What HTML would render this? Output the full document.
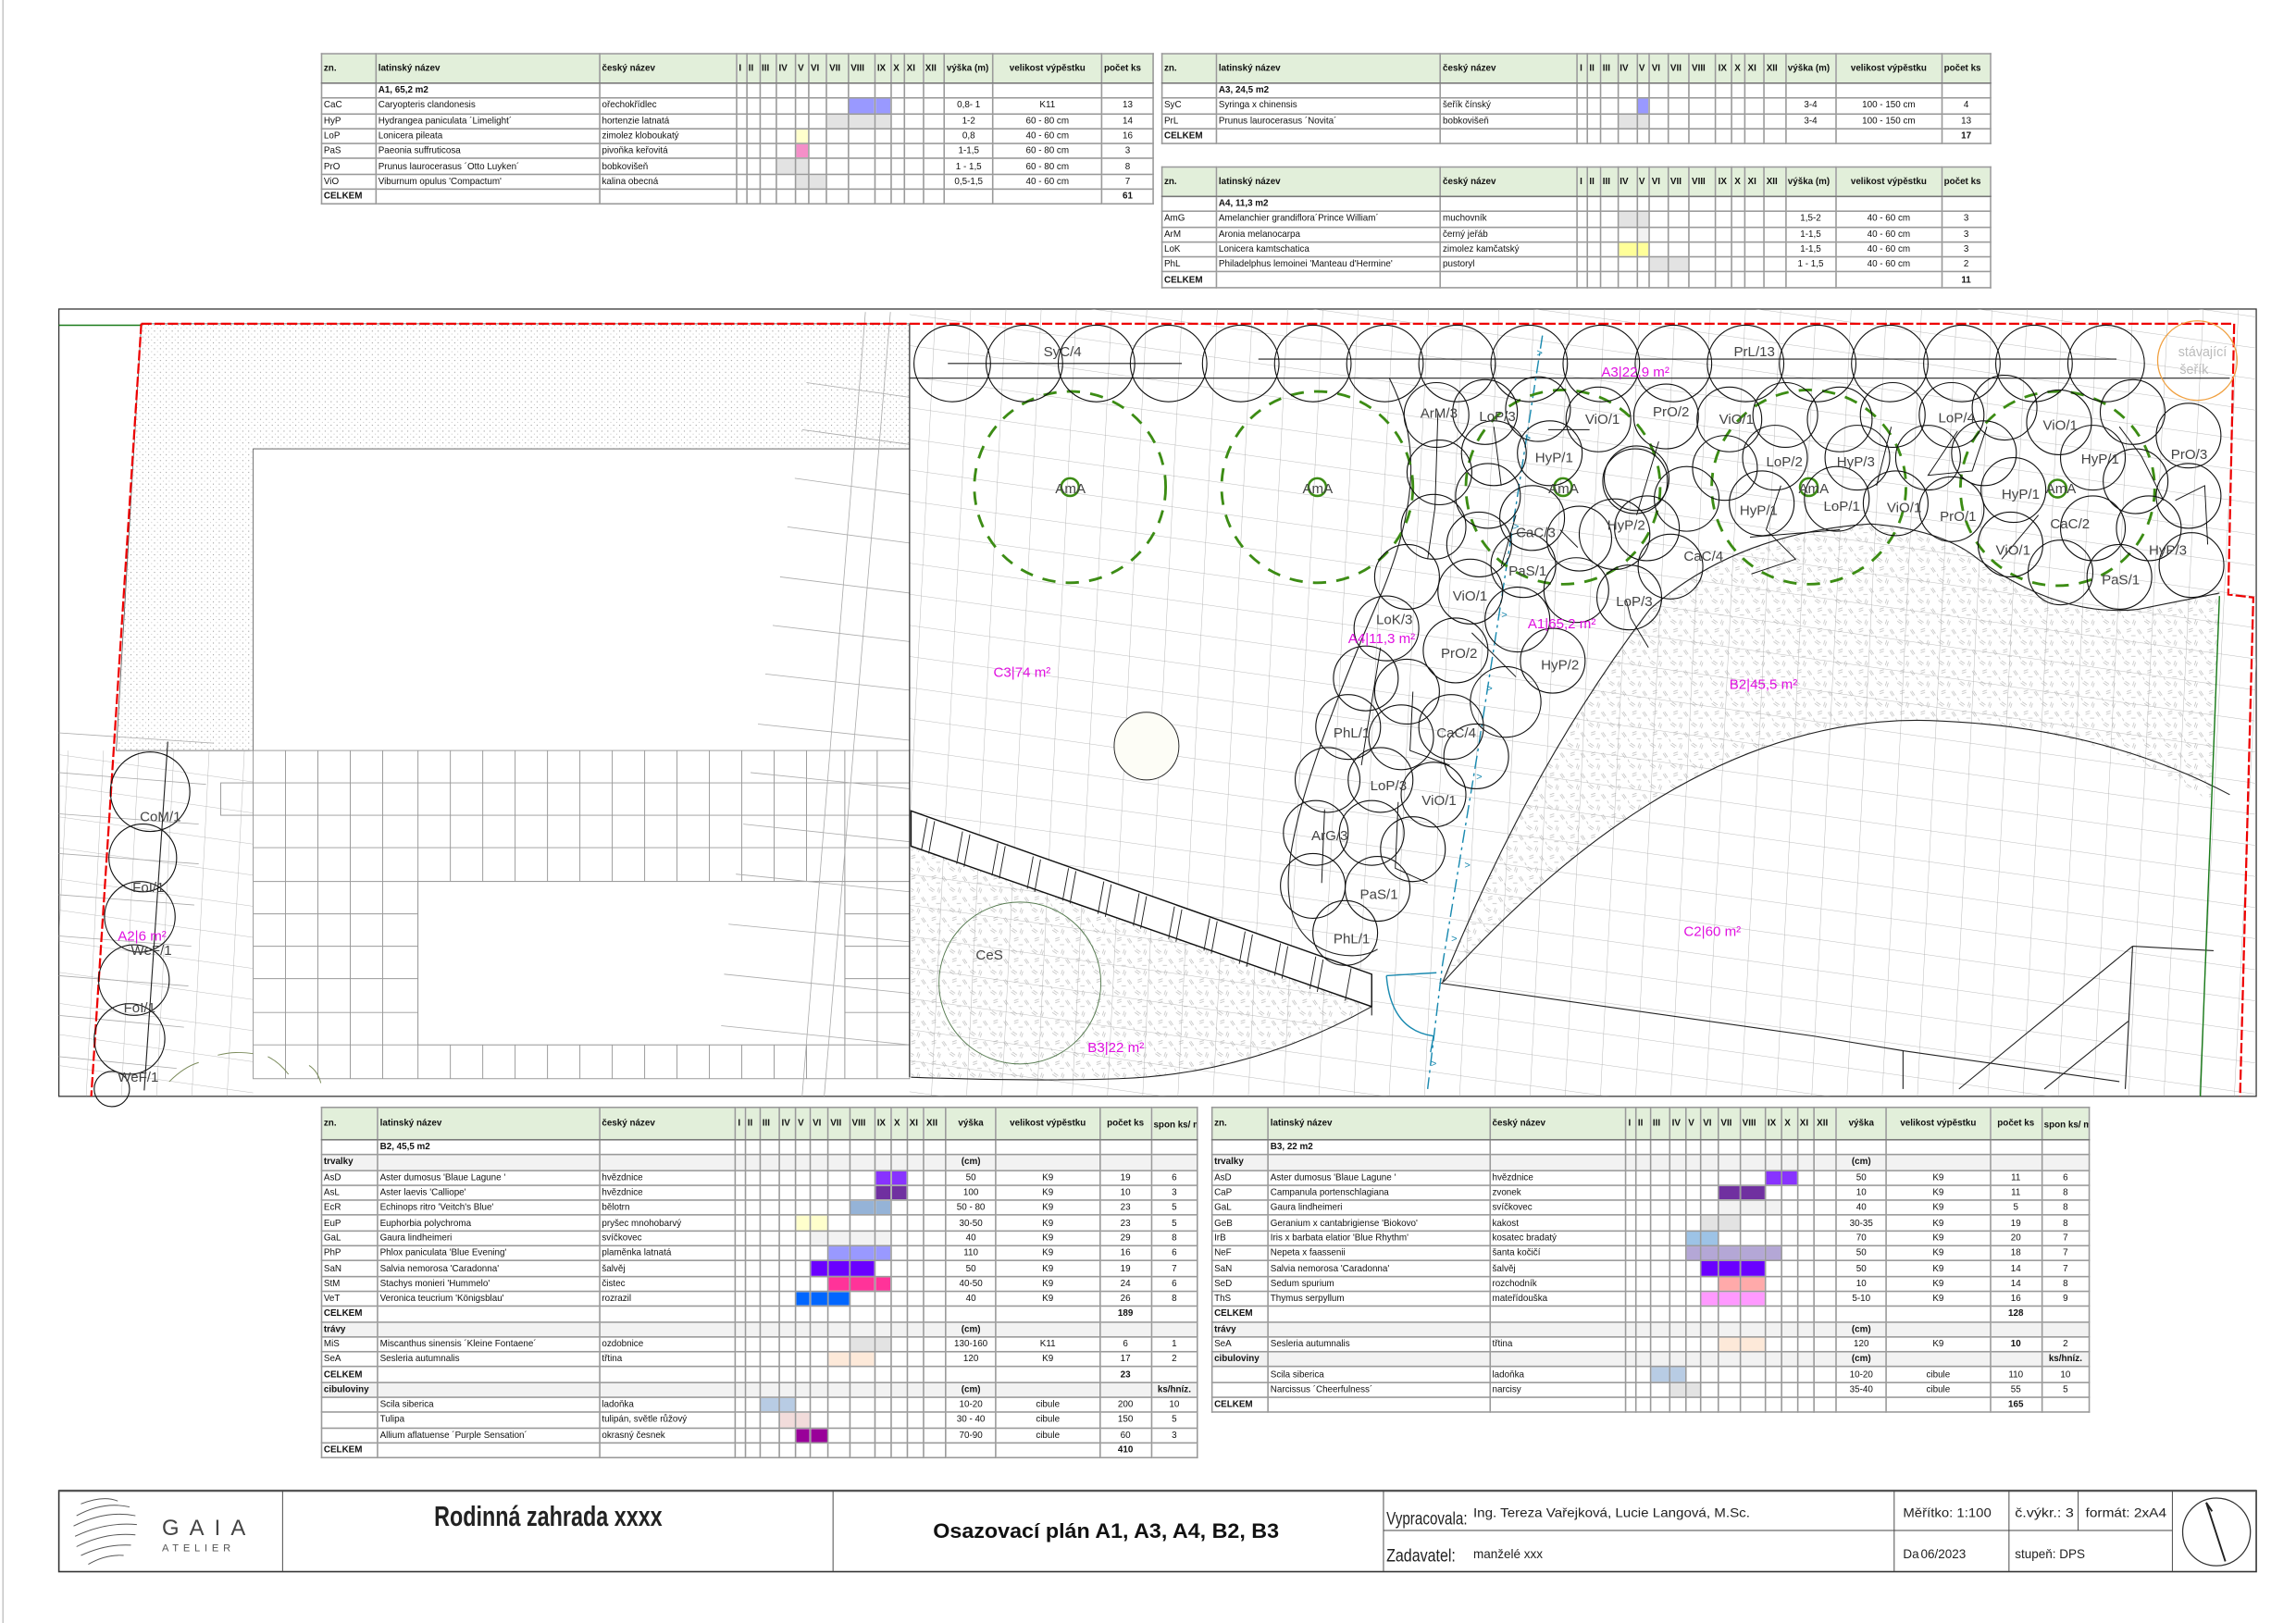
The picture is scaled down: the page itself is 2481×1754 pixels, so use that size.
<!DOCTYPE html>
<html><head><meta charset="utf-8"><style>
html,body{margin:0;padding:0;background:#fff;width:2481px;height:1754px;overflow:hidden}
#w{position:absolute;left:0;top:0;width:1560px;height:1103px;transform:scale(1.59038);transform-origin:0 0;font-family:"Liberation Sans Narrow","Liberation Sans",sans-serif}
.t{position:absolute;border-collapse:collapse;table-layout:fixed;font-size:6.2px;color:#111;border:0.8px solid #333}
.t td{border:0.5px solid #9a9a9a;padding:0 1px;height:10.3px;line-height:9px;white-space:nowrap;overflow:hidden;box-sizing:border-box}
.t tr.h td{background:#e2efda;font-weight:bold;height:20px;border-bottom:1px solid #777}
.t tr.bh td{height:22px}
.t tr.g td{background:#f2f2f2;font-weight:bold}
.t tr.k td{font-weight:bold;border-top:0.8px solid #333}
.t td.c{text-align:center}
.b{background:#9999ff}.gy{background:#e3e3e3}.y{background:#ffffcc}.pk{background:#f48fc8}.yy{background:#ffff99}
.a1{background:#8833ff}.a2{background:#7030a0}.ec{background:#95b3d7}.lg{background:#f2f2f2}.sn{background:#6a00ff}.st{background:#ff3399}.vt{background:#0066ff}.se{background:#fde9d9}.sc{background:#b8cce4}.tu{background:#f2dcdb}.al{background:#990099}.ir{background:#9dc3e6}.ne{background:#b4a7d6}.sd{background:#ffaaaa}.th{background:#ff99ff}
.svg{position:absolute;left:0;top:0}
</style></head><body><div id="w">

<svg class="svg" width="1560" height="1103" viewBox="0 0 1560 1103" font-family="Liberation Sans, sans-serif">
<defs>
<pattern id="grid" width="24" height="21" patternUnits="userSpaceOnUse" patternTransform="matrix(0.990,0.139,-0.05,0.999,0,0)">
<path d="M0 0H24M0 0V21" stroke="#a8a8a8" stroke-width="0.5" fill="none"/></pattern>
<pattern id="tex" width="14" height="14" patternUnits="userSpaceOnUse">
<path d="M1 2l3 2M2 1l3 2M8 1l-1 3M9 2l-1 3M3 8l3-1M3 9.5l3-1M10 8l2 3M11 7.5l2 3M6 12l3 0M0 12l1 2" stroke="#bbb" stroke-width="0.45" fill="none"/></pattern>
<pattern id="dots" width="4" height="4" patternUnits="userSpaceOnUse"><circle cx="1" cy="1" r="0.35" fill="#888"/><circle cx="3" cy="3" r="0.3" fill="#aaa"/></pattern>
<clipPath id="gc"><path d="M618 210H1533V745H618ZM40 510H172V745H40Z"/></clipPath>
</defs>
<line x1="2" y1="0" x2="2" y2="1103" stroke="#bbb" stroke-width="0.8"/>
<rect x="40" y="210" width="1493" height="535" fill="#fff" stroke="#333" stroke-width="0.8"/>
<path d="M96 220H618V305H172V510H79Z" fill="url(#dots)" stroke="#555" stroke-width="0.5"/>
<g stroke="#999" stroke-width="0.6" fill="none">
<rect x="172" y="510" width="446" height="223"/>
<path d="M194 510V733M216 510V733M238 510V733M260 510V733M284 510V733M306 510V599M328 510V599M350 510V599M372 510V599M394 510V599M416 510V599M438 510V599M460 510V599M482 510V599M504 510V599M526 510V599M548 510V599M574 510V733M596 510V733M306 710V733M328 710V733M350 710V733M372 710V733M394 710V733M416 710V733M438 710V733M460 710V733M482 710V733M504 710V733M526 710V733M548 710V733"/>
<path d="M172 532H618M172 554H618M172 576H618M172 599H618M172 621H284M172 643H284M172 665H284M172 688H284M172 710H618M574 621H618M574 643H618M574 665H618M574 688H618"/>
<rect x="284" y="599" width="290" height="111" fill="#fff"/>
<rect x="150" y="532" width="22" height="22"/>
</g>
<path d="M619 575L932 684Q850 730 760 733L619 732Z" fill="url(#tex)"/>
<path d="M980 668Q1040 520 1121 414Q1180 362 1271 356Q1320 360 1344 380Q1400 420 1453 414L1508 403L1502 545Q1430 495 1320 490Q1150 480 981 667Z" fill="url(#tex)"/>
<rect x="40" y="210" width="1493" height="535" fill="url(#grid)" clip-path="url(#gc)"/>
<g stroke="#aaa" stroke-width="0.5"><path d="M40 498L145 505M40 525L140 533M40 553L135 560M40 580L135 587M40 608L132 615M40 636L130 643M40 663L128 670M40 690L125 698M40 718L120 726"/>
<path d="M548 260L618 270M545 292L618 302M540 325L618 336M535 358L618 369M530 392L618 403M525 425L618 436M520 458L618 469M515 492L618 503M510 525L618 536M505 560L618 572M500 594L618 606M495 628L618 640M492 662L618 675M490 697L618 710M605 212L560 745M588 212L545 745"/></g>
<path d="M619 551L932 662L932 684L619 575Z" fill="#fff" stroke="#111" stroke-width="0.9"/>
<g stroke="#222" stroke-width="0.6"><path d="M630 556L626 578M635 558L631 580M654 565L650 587M659 567L655 589M678 573L674 595M683 575L679 597M702 582L698 604M707 584L703 606M726 590L722 612M731 592L727 614M750 599L746 621M755 601L751 623M774 607L770 629M779 609L775 631M798 616L794 638M803 618L799 640M822 624L818 646M827 626L823 648M846 633L842 655M851 635L847 657M870 641L866 663M875 643L871 665M894 650L890 672M899 652L895 674M918 658L914 680"/></g>
<g stroke="#222" stroke-width="0.7" fill="none">
<path d="M618 220V732"/>
<path d="M618 257H1515"/>
<path d="M619 732Q700 735 760 733Q850 730 932 684"/>
<path d="M944 257C966 300 962 345 940 400C905 480 870 570 876 610C880 650 920 655 936 645"/>
<path d="M980 668Q1040 520 1121 414Q1180 362 1271 356Q1320 360 1344 380Q1400 420 1453 414L1508 403"/>
<path d="M981 667Q1150 480 1320 490Q1430 495 1515 540"/>
<path d="M932 684L932 690M978 668L1232 704L1293 714L1293 740M1293 714L1440 735M1449 643L1504 646M1449 643L1444 740M1331 740L1449 643M1389 740L1446 694"/>
<path d="M644 247H803M855 244H1438"/>
<path d="M114 504L98 741"/>
</g>
<path d="M40 221H96" stroke="#1a7a1a" stroke-width="0.9"/>
<path d="M1508 405L1495 745" stroke="#1a7a1a" stroke-width="0.9"/>
<path d="M96 220H1518L1514 404L1531 406L1522 745M96 220L62 745" stroke="#e00" stroke-width="1.4" stroke-dasharray="7 2" fill="none"/>
<path d="M1048 228L1004 511L980 656L970 740" stroke="#1a8ab0" stroke-width="0.9" stroke-dasharray="9 3 2 3" fill="none"/>
<path d="M942 663L976 661M942 663Q945 700 974 704L972 715" stroke="#1a8ab0" stroke-width="0.9" fill="none"/>
<g fill="#1a8ab0" font-size="7"><text x="1044" y="242">&gt;</text><text x="1036" y="300">&gt;</text><text x="1028" y="360">&gt;</text><text x="1020" y="420">&gt;</text><text x="1010" y="470">&gt;</text><text x="1003" y="530">&gt;</text><text x="995" y="590">&gt;</text><text x="986" y="640">&gt;</text><text x="972" y="725">&gt;</text></g>
<g stroke="#3c8c14" stroke-width="1.8" stroke-dasharray="9 7" fill="none">
<circle cx="727" cy="331" r="65"/><circle cx="895" cy="331" r="65"/><circle cx="1062" cy="331" r="66"/><circle cx="1229" cy="331" r="66"/><circle cx="1398" cy="332" r="66"/></g>
<g stroke="#3c8c14" stroke-width="1.6" fill="none"><circle cx="727" cy="331" r="6"/><circle cx="895" cy="331" r="6"/><circle cx="1062" cy="331" r="6"/><circle cx="1229" cy="331" r="6"/><circle cx="1398" cy="332" r="6"/></g>
<g stroke="#7a8a5a" stroke-width="0.6" fill="none"><path d="M115 735Q125 725 135 722M148 717Q160 714 172 716M182 718Q190 722 196 730M210 724Q216 728 218 736"/></g>
<g stroke="#111" stroke-width="0.7" fill="none">
<circle cx="647" cy="247" r="26"/><circle cx="696" cy="247" r="26"/><circle cx="745" cy="247" r="26"/><circle cx="794" cy="247" r="26"/><circle cx="843" cy="247" r="26"/><circle cx="892" cy="247" r="26"/><circle cx="941" cy="247" r="26"/><circle cx="990" cy="247" r="26"/><circle cx="1039" cy="247" r="26"/><circle cx="1088" cy="247" r="26"/><circle cx="1137" cy="247" r="26"/><circle cx="1186" cy="247" r="26"/><circle cx="1235" cy="247" r="26"/><circle cx="1284" cy="247" r="26"/><circle cx="1333" cy="247" r="26"/><circle cx="1382" cy="247" r="26"/><circle cx="1431" cy="247" r="26"/>
<circle cx="976" cy="282" r="22"/><circle cx="978" cy="321" r="22"/><circle cx="974" cy="358" r="22"/><circle cx="956" cy="392" r="22"/><circle cx="942" cy="427" r="22"/><circle cx="928" cy="461" r="22"/><circle cx="916" cy="494" r="22"/><circle cx="902" cy="530" r="22"/><circle cx="894" cy="566" r="22"/><circle cx="892" cy="602" r="22"/><circle cx="914" cy="634" r="22"/>
<circle cx="1009" cy="280" r="22"/><circle cx="1015" cy="308" r="22"/><circle cx="1011" cy="337" r="22"/><circle cx="1005" cy="370" r="22"/><circle cx="999" cy="402" r="22"/><circle cx="989" cy="442" r="22"/><circle cx="956" cy="470" r="22"/><circle cx="952" cy="501" r="22"/><circle cx="938" cy="530" r="22"/><circle cx="932" cy="566" r="22"/><circle cx="936" cy="604" r="22"/><circle cx="960" cy="577" r="22"/><circle cx="974" cy="540" r="22"/><circle cx="986" cy="494" r="22"/><circle cx="1003" cy="514" r="22"/><circle cx="1023" cy="477" r="24"/><circle cx="1031" cy="421" r="22"/><circle cx="1035" cy="384" r="22"/><circle cx="1041" cy="352" r="22"/><circle cx="1053" cy="308" r="22"/><circle cx="1045" cy="278" r="22"/><circle cx="1073" cy="366" r="22"/><circle cx="1071" cy="401" r="22"/><circle cx="1055" cy="449" r="22"/><circle cx="1107" cy="406" r="22"/><circle cx="1111" cy="327" r="22"/><circle cx="1097" cy="363" r="24"/>
<circle cx="1086" cy="285" r="22"/><circle cx="1132" cy="283" r="22"/><circle cx="1112" cy="325" r="22"/><circle cx="1146" cy="339" r="22"/><circle cx="1119" cy="359" r="22"/><circle cx="1135" cy="385" r="22"/><circle cx="1175" cy="285" r="22"/><circle cx="1172" cy="318" r="22"/><circle cx="1197" cy="342" r="22"/><circle cx="1206" cy="311" r="22"/><circle cx="1213" cy="282" r="22"/><circle cx="1250" cy="285" r="22"/><circle cx="1262" cy="311" r="22"/><circle cx="1248" cy="339" r="22"/><circle cx="1286" cy="282" r="22"/><circle cx="1288" cy="342" r="22"/><circle cx="1310" cy="311" r="22"/><circle cx="1326" cy="282" r="22"/><circle cx="1326" cy="346" r="22"/><circle cx="1348" cy="308" r="22"/><circle cx="1362" cy="277" r="22"/><circle cx="1368" cy="333" r="22"/><circle cx="1366" cy="370" r="22"/><circle cx="1399" cy="287" r="22"/><circle cx="1422" cy="311" r="22"/><circle cx="1449" cy="280" r="22"/><circle cx="1451" cy="327" r="22"/><circle cx="1422" cy="359" r="22"/><circle cx="1400" cy="389" r="22"/><circle cx="1440" cy="392" r="22"/><circle cx="1460" cy="359" r="22"/><circle cx="1487" cy="296" r="22"/><circle cx="1487" cy="337" r="22"/><circle cx="1489" cy="384" r="22"/>
<circle cx="102" cy="538" r="27"/><circle cx="97" cy="583" r="23"/><circle cx="95" cy="623" r="24"/><circle cx="91" cy="666" r="24"/><circle cx="88" cy="706" r="24"/><circle cx="76" cy="740" r="12"/>
</g>
<g stroke="#111" stroke-width="0.6" fill="none"><path d="M977 280L975 345L970 380M1015 290L1020 330M1052 292L1080 292M1112 350L1127 300M1189 365L1250 360M1210 330L1200 360L1220 380L1190 390M1060 360L1072 372M1030 350L1020 385M1105 408L1108 420L1120 440M1000 430L1030 460M938 440L925 520M960 470L958 510L985 520M950 545L948 590L970 600M900 550L898 600M1285 290L1275 330M1330 293L1310 323L1340 320L1350 290M1440 290L1455 310L1470 340M1478 340L1498 330L1500 370M1360 380L1385 350"/></g>
<circle cx="1493" cy="245" r="27" fill="none" stroke="#f0a040" stroke-width="0.8"/>
<circle cx="693" cy="668" r="55" fill="none" stroke="#567a50" stroke-width="0.6"/>
<ellipse cx="779" cy="507" rx="22" ry="23" fill="#fdfdf6" stroke="#222" stroke-width="0.6"/>
<g font-size="9.5" fill="#444">
<text x="709" y="242">SyC/4</text><text x="1178" y="242">PrL/13</text>
<text x="717" y="335">AmA</text><text x="885" y="335">AmA</text><text x="1052" y="335">AmA</text><text x="1222" y="335">AmA</text><text x="1390" y="335">AmA</text>
<text x="965" y="284">ArM/3</text><text x="1005" y="286">LoP/3</text><text x="1077" y="288">ViO/1</text><text x="1123" y="283">PrO/2</text><text x="1168" y="288">ViO/1</text><text x="1043" y="314">HyP/1</text><text x="1200" y="317">LoP/2</text><text x="1248" y="317">HyP/3</text><text x="1317" y="287">LoP/4</text><text x="1388" y="292">ViO/1</text><text x="1414" y="315">HyP/1</text><text x="1475" y="312">PrO/3</text>
<text x="1182" y="350">HyP/1</text><text x="1239" y="347">LoP/1</text><text x="1282" y="348">ViO/1</text><text x="1318" y="354">PrO/1</text><text x="1360" y="339">HyP/1</text><text x="1393" y="359">CaC/2</text><text x="1460" y="377">HyP/3</text><text x="1356" y="377">ViO/1</text><text x="1428" y="397">PaS/1</text>
<text x="1030" y="365">CaC/3</text><text x="1092" y="360">HyP/2</text><text x="1144" y="381">CaC/4</text><text x="1025" y="391">PaS/1</text><text x="987" y="408">ViO/1</text><text x="1098" y="412">LoP/3</text><text x="935" y="424">LoK/3</text><text x="979" y="447">PrO/2</text><text x="1047" y="455">HyP/2</text><text x="906" y="501">PhL/1</text><text x="976" y="501">CaC/4</text><text x="931" y="537">LoP/3</text><text x="966" y="547">ViO/1</text><text x="891" y="571">ArG/3</text><text x="924" y="611">PaS/1</text><text x="906" y="641">PhL/1</text>
<text x="663" y="652">CeS</text>
<text x="95" y="558">CoM/1</text><text x="90" y="606">FoI/1</text><text x="89" y="649">WeF/1</text><text x="84" y="688">FoI/1</text><text x="80" y="735">WeF/1</text>
</g>
<g font-size="9" fill="#bbb"><text x="1480" y="242">stávající</text><text x="1481" y="254">šeřík</text></g>
<g font-size="9.5" fill="#e010e0">
<text x="1088" y="256">A3|22,9 m²</text><text x="675" y="460">C3|74 m²</text><text x="916" y="437">A4|11,3 m²</text><text x="1038" y="427">A1|65,2 m²</text><text x="1175" y="468">B2|45,5 m²</text><text x="1144" y="636">C2|60 m²</text><text x="739" y="715">B3|22 m²</text><text x="80" y="639">A2|6 m²</text>
</g>
<rect x="40" y="1013" width="1493" height="55" fill="#fff" stroke="#333" stroke-width="1"/>
<line x1="40" y1="1013" x2="1533" y2="1013" stroke="#555" stroke-width="1.5"/>
<g stroke="#444" stroke-width="0.6"><path d="M192 1013V1068M566 1013V1068M940 1013V1068M1287 1013V1068M1365 1013V1040M1412 1013V1040M1476 1013V1068M940 1040H1476M1365 1040V1068"/></g>
<g stroke="#555" stroke-width="0.6" fill="none"><path d="M55 1022Q70 1016 80 1020M52 1030Q70 1020 88 1024M50 1037Q72 1026 92 1030M51 1044Q72 1034 93 1036M52 1051Q72 1041 92 1043M55 1057Q72 1049 89 1050M60 1063Q72 1056 84 1057"/></g>
<text x="110" y="1043" font-size="15" fill="#444" letter-spacing="7">GAIA</text>
<text x="110" y="1054" font-size="7" fill="#555" letter-spacing="3">ATELIER</text>
<text x="295" y="1037" font-size="19" font-weight="bold" fill="#222" textLength="155" lengthAdjust="spacingAndGlyphs">Rodinná zahrada xxxx</text>
<text x="634" y="1045" font-size="14" font-weight="bold" fill="#111" textLength="235" lengthAdjust="spacingAndGlyphs">Osazovací plán A1, A3, A4, B2, B3</text>
<g fill="#222">
<text x="942" y="1036" font-size="12" textLength="55" lengthAdjust="spacingAndGlyphs">Vypracovala:</text><text x="1001" y="1031" font-size="8.5" textLength="188" lengthAdjust="spacingAndGlyphs">Ing. Tereza Vařejková, Lucie Langová, M.Sc.</text>
<text x="942" y="1061" font-size="12" textLength="47" lengthAdjust="spacingAndGlyphs">Zadavatel:</text><text x="1001" y="1059" font-size="8.5">manželé xxx</text>
<text x="1293" y="1031" font-size="8.5" textLength="60" lengthAdjust="spacingAndGlyphs">Měřítko: 1:100</text><text x="1369" y="1031" font-size="8.5" textLength="40" lengthAdjust="spacingAndGlyphs">č.výkr.: 3</text><text x="1417" y="1031" font-size="8.5" textLength="55" lengthAdjust="spacingAndGlyphs">formát: 2xA4</text>
<text x="1293" y="1059" font-size="8.5">Da</text><text x="1305" y="1059" font-size="8.5">06/2023</text><text x="1369" y="1059" font-size="8.5">stupeň: DPS</text>
</g>
<circle cx="1506" cy="1041" r="23" fill="none" stroke="#333" stroke-width="0.8"/>
<path d="M1499 1021L1512 1061M1499 1021L1503 1027" stroke="#222" stroke-width="1.2" fill="none"/>
</svg>

<table class="t" style="left:218px;top:36px;width:565px">
<colgroup><col style="width:37px"><col style="width:152px"><col style="width:93px"><col style="width:6.5px"><col style="width:9px"><col style="width:11.6px"><col style="width:13px"><col style="width:8.7px"><col style="width:12.7px"><col style="width:14.5px"><col style="width:18px"><col style="width:11px"><col style="width:9px"><col style="width:12.7px"><col style="width:14.5px"><col style="width:33px"><col style="width:74px"><col style="width:35px"></colgroup>
<tr class="h"><td>zn.<td>latinský název<td>český název<td>I<td>II<td>III<td>IV<td>V<td>VI<td>VII<td>VIII<td>IX<td>X<td>XI<td>XII<td>výška (m)<td class=c>velikost výpěstku<td>počet ks
<tr><td><td><b>A1, 65,2 m2</b><td><td><td><td><td><td><td><td><td><td><td><td><td><td><td><td>
<tr><td>CaC<td>Caryopteris clandonesis<td>ořechokřídlec<td><td><td><td><td><td><td><td class=b><td class=b><td><td><td><td class=c>0,8- 1<td class=c>K11<td class=c>13
<tr><td>HyP<td>Hydrangea paniculata ´Limelight´<td>hortenzie latnatá<td><td><td><td><td><td><td class=gy><td class=gy><td class=gy><td><td><td><td class=c>1-2<td class=c>60 - 80 cm<td class=c>14
<tr><td>LoP<td>Lonicera pileata<td>zimolez kloboukatý<td><td><td><td><td class=y><td><td><td><td><td><td><td><td class=c>0,8<td class=c>40 - 60 cm<td class=c>16
<tr><td>PaS<td>Paeonia suffruticosa<td>pivoňka keřovitá<td><td><td><td><td class=pk><td><td><td><td><td><td><td><td class=c>1-1,5<td class=c>60 - 80 cm<td class=c>3
<tr><td>PrO<td>Prunus laurocerasus ´Otto Luyken´<td>bobkovišeň<td><td><td><td class=gy><td class=gy><td><td><td><td><td><td><td><td class=c>1 - 1,5<td class=c>60 - 80 cm<td class=c>8
<tr><td>ViO<td>Viburnum opulus 'Compactum'<td>kalina obecná<td><td><td><td><td class=gy><td class=gy><td><td><td><td><td><td><td class=c>0,5-1,5<td class=c>40 - 60 cm<td class=c>7
<tr class="k"><td>CELKEM<td><td><td><td><td><td><td><td><td><td><td><td><td><td><td><td><td class=c>61
</table>

<table class="t" style="left:789px;top:36px;width:564px">
<colgroup><col style="width:37px"><col style="width:152px"><col style="width:93px"><col style="width:6.5px"><col style="width:9px"><col style="width:11.6px"><col style="width:13px"><col style="width:8.7px"><col style="width:12.7px"><col style="width:14.5px"><col style="width:18px"><col style="width:11px"><col style="width:9px"><col style="width:12.7px"><col style="width:14.5px"><col style="width:34px"><col style="width:72px"><col style="width:33px"></colgroup>
<tr class="h"><td>zn.<td>latinský název<td>český název<td>I<td>II<td>III<td>IV<td>V<td>VI<td>VII<td>VIII<td>IX<td>X<td>XI<td>XII<td>výška (m)<td class=c>velikost výpěstku<td>počet ks
<tr><td><td><b>A3, 24,5 m2</b><td><td><td><td><td><td><td><td><td><td><td><td><td><td><td><td>
<tr><td>SyC<td>Syringa x chinensis<td>šeřík čínský<td><td><td><td><td class=b><td><td><td><td><td><td><td><td class=c>3-4<td class=c>100 - 150 cm<td class=c>4
<tr><td>PrL<td>Prunus laurocerasus ´Novita´<td>bobkovišeň<td><td><td><td class=gy><td class=gy><td><td><td><td><td><td><td><td class=c>3-4<td class=c>100 - 150 cm<td class=c>13
<tr class="k"><td>CELKEM<td><td><td><td><td><td><td><td><td><td><td><td><td><td><td><td><td class=c>17
</table>

<table class="t" style="left:789px;top:113px;width:564px">
<colgroup><col style="width:37px"><col style="width:152px"><col style="width:93px"><col style="width:6.5px"><col style="width:9px"><col style="width:11.6px"><col style="width:13px"><col style="width:8.7px"><col style="width:12.7px"><col style="width:14.5px"><col style="width:18px"><col style="width:11px"><col style="width:9px"><col style="width:12.7px"><col style="width:14.5px"><col style="width:34px"><col style="width:72px"><col style="width:33px"></colgroup>
<tr class="h"><td>zn.<td>latinský název<td>český název<td>I<td>II<td>III<td>IV<td>V<td>VI<td>VII<td>VIII<td>IX<td>X<td>XI<td>XII<td>výška (m)<td class=c>velikost výpěstku<td>počet ks
<tr><td><td><b>A4, 11,3 m2</b><td><td><td><td><td><td><td><td><td><td><td><td><td><td><td><td>
<tr><td>AmG<td>Amelanchier grandiflora´Prince William´<td>muchovník<td><td><td><td class=gy><td class=gy><td><td><td><td><td><td><td><td class=c>1,5-2<td class=c>40 - 60 cm<td class=c>3
<tr><td>ArM<td>Aronia melanocarpa<td>černý jeřáb<td><td><td><td><td class=lg><td><td><td><td><td><td><td><td class=c>1-1,5<td class=c>40 - 60 cm<td class=c>3
<tr><td>LoK<td>Lonicera kamtschatica<td>zimolez kamčatský<td><td><td><td class=yy><td class=yy><td><td><td><td><td><td><td><td class=c>1-1,5<td class=c>40 - 60 cm<td class=c>3
<tr><td>PhL<td>Philadelphus lemoinei 'Manteau d'Hermine'<td>pustoryl<td><td><td><td><td><td class=gy><td class=gy><td><td><td><td><td><td class=c>1 - 1,5<td class=c>40 - 60 cm<td class=c>2
<tr class="k"><td>CELKEM<td><td><td><td><td><td><td><td><td><td><td><td><td><td><td><td><td class=c>11
</table>

<table class="t" style="left:218px;top:752px;width:596px">
<colgroup><col style="width:38px"><col style="width:150px"><col style="width:92px"><col style="width:6.5px"><col style="width:10px"><col style="width:13px"><col style="width:11px"><col style="width:10px"><col style="width:12px"><col style="width:14.6px"><col style="width:17px"><col style="width:11.5px"><col style="width:10.4px"><col style="width:11.5px"><col style="width:14.6px"><col style="width:34px"><col style="width:70px"><col style="width:35px"><col style="width:31px"></colgroup>
<tr class="h bh"><td>zn.<td>latinský název<td>český název<td>I<td>II<td>III<td>IV<td>V<td>VI<td>VII<td>VIII<td>IX<td>X<td>XI<td>XII<td class=c>výška<td class=c>velikost výpěstku<td class=c>počet ks<td class=c>spon ks/ m<sup>2</sup>
<tr><td><td><b>B2, 45,5 m2</b><td><td><td><td><td><td><td><td><td><td><td><td><td><td><td><td><td>
<tr class="g"><td>trvalky<td><td><td><td><td><td><td><td><td><td><td><td><td><td><td class=c>(cm)<td><td><td>
<tr><td>AsD<td>Aster dumosus 'Blaue Lagune '<td>hvězdnice<td><td><td><td><td><td><td><td><td class=a1><td class=a1><td><td><td class=c>50<td class=c>K9<td class=c>19<td class=c>6
<tr><td>AsL<td>Aster laevis 'Calliope'<td>hvězdnice<td><td><td><td><td><td><td><td><td class=a2><td class=a2><td><td><td class=c>100<td class=c>K9<td class=c>10<td class=c>3
<tr><td>EcR<td>Echinops ritro 'Veitch's Blue'<td>bělotrn<td><td><td><td><td><td><td><td class=ec><td class=ec><td><td><td><td class=c>50 - 80<td class=c>K9<td class=c>23<td class=c>5
<tr><td>EuP<td>Euphorbia polychroma<td>pryšec mnohobarvý<td><td><td><td><td class=y><td class=y><td><td><td><td><td><td><td class=c>30-50<td class=c>K9<td class=c>23<td class=c>5
<tr><td>GaL<td>Gaura lindheimeri<td>svíčkovec<td><td><td><td><td><td class=lg><td class=lg><td class=lg><td class=lg><td><td><td><td class=c>40<td class=c>K9<td class=c>29<td class=c>8
<tr><td>PhP<td>Phlox paniculata 'Blue Evening'<td>plaměnka latnatá<td><td><td><td><td><td><td class=b><td class=b><td class=b><td><td><td><td class=c>110<td class=c>K9<td class=c>16<td class=c>6
<tr><td>SaN<td>Salvia nemorosa 'Caradonna'<td>šalvěj<td><td><td><td><td><td class=sn><td class=sn><td class=sn><td><td><td><td><td class=c>50<td class=c>K9<td class=c>19<td class=c>7
<tr><td>StM<td>Stachys monieri 'Hummelo'<td>čistec<td><td><td><td><td><td><td class=st><td class=st><td class=st><td><td><td><td class=c>40-50<td class=c>K9<td class=c>24<td class=c>6
<tr><td>VeT<td>Veronica teucrium 'Königsblau'<td>rozrazil<td><td><td><td><td class=vt><td class=vt><td class=vt><td><td><td><td><td><td class=c>40<td class=c>K9<td class=c>26<td class=c>8
<tr class="k"><td>CELKEM<td><td><td><td><td><td><td><td><td><td><td><td><td><td><td><td><td class=c>189<td>
<tr class="g"><td>trávy<td><td><td><td><td><td><td><td><td><td><td><td><td><td><td class=c>(cm)<td><td><td>
<tr><td>MiS<td>Miscanthus sinensis ´Kleine Fontaene´<td>ozdobnice<td><td><td><td><td><td><td><td class=gy><td class=gy><td><td><td><td class=c>130-160<td class=c>K11<td class=c>6<td class=c>1
<tr><td>SeA<td>Sesleria autumnalis<td>třtina<td><td><td><td><td><td><td class=se><td class=se><td><td><td><td><td class=c>120<td class=c>K9<td class=c>17<td class=c>2
<tr class="k"><td>CELKEM<td><td><td><td><td><td><td><td><td><td><td><td><td><td><td><td><td class=c>23<td>
<tr class="g"><td>cibuloviny<td><td><td><td><td><td><td><td><td><td><td><td><td><td><td class=c>(cm)<td><td><td class=c>ks/hníz.
<tr><td><td>Scila siberica<td>ladoňka<td><td><td class=sc><td class=sc><td><td><td><td><td><td><td><td><td class=c>10-20<td class=c>cibule<td class=c>200<td class=c>10
<tr><td><td>Tulipa<td>tulipán, světle růžový<td><td><td><td class=tu><td class=tu><td><td><td><td><td><td><td><td class=c>30 - 40<td class=c>cibule<td class=c>150<td class=c>5
<tr><td><td>Allium aflatuense ´Purple Sensation´<td>okrasný česnek<td><td><td><td><td class=al><td class=al><td><td><td><td><td><td><td class=c>70-90<td class=c>cibule<td class=c>60<td class=c>3
<tr class="k"><td>CELKEM<td><td><td><td><td><td><td><td><td><td><td><td><td><td><td><td><td class=c>410<td>
</table>

<table class="t" style="left:823px;top:752px;width:597px">
<colgroup><col style="width:38px"><col style="width:150px"><col style="width:92px"><col style="width:6.5px"><col style="width:10px"><col style="width:13px"><col style="width:11px"><col style="width:10px"><col style="width:12px"><col style="width:14.6px"><col style="width:17px"><col style="width:11.5px"><col style="width:10.4px"><col style="width:11.5px"><col style="width:14.6px"><col style="width:34px"><col style="width:70px"><col style="width:35px"><col style="width:32px"></colgroup>
<tr class="h bh"><td>zn.<td>latinský název<td>český název<td>I<td>II<td>III<td>IV<td>V<td>VI<td>VII<td>VIII<td>IX<td>X<td>XI<td>XII<td class=c>výška<td class=c>velikost výpěstku<td class=c>počet ks<td class=c>spon ks/ m<sup>2</sup>
<tr><td><td><b>B3, 22 m2</b><td><td><td><td><td><td><td><td><td><td><td><td><td><td><td><td><td>
<tr class="g"><td>trvalky<td><td><td><td><td><td><td><td><td><td><td><td><td><td><td class=c>(cm)<td><td><td>
<tr><td>AsD<td>Aster dumosus 'Blaue Lagune '<td>hvězdnice<td><td><td><td><td><td><td><td><td class=a1><td class=a1><td><td><td class=c>50<td class=c>K9<td class=c>11<td class=c>6
<tr><td>CaP<td>Campanula portenschlagiana<td>zvonek<td><td><td><td><td><td><td class=a2><td class=a2><td><td><td><td><td class=c>10<td class=c>K9<td class=c>11<td class=c>8
<tr><td>GaL<td>Gaura lindheimeri<td>svíčkovec<td><td><td><td><td><td><td class=lg><td class=lg><td class=lg><td><td><td><td class=c>40<td class=c>K9<td class=c>5<td class=c>8
<tr><td>GeB<td>Geranium x cantabrigiense 'Biokovo'<td>kakost<td><td><td><td><td><td class=gy><td class=gy><td><td><td><td><td><td class=c>30-35<td class=c>K9<td class=c>19<td class=c>8
<tr><td>IrB<td>Iris x barbata elatior  'Blue Rhythm'<td>kosatec bradatý<td><td><td><td><td class=ir><td class=ir><td><td><td><td><td><td><td class=c>70<td class=c>K9<td class=c>20<td class=c>7
<tr><td>NeF<td>Nepeta x faassenii<td>šanta kočičí<td><td><td><td><td class=ne><td class=ne><td class=ne><td class=ne><td class=ne><td><td><td><td class=c>50<td class=c>K9<td class=c>18<td class=c>7
<tr><td>SaN<td>Salvia nemorosa 'Caradonna'<td>šalvěj<td><td><td><td><td><td class=sn><td class=sn><td class=sn><td><td><td><td><td class=c>50<td class=c>K9<td class=c>14<td class=c>7
<tr><td>SeD<td>Sedum spurium<td>rozchodník<td><td><td><td><td><td><td class=sd><td class=sd><td><td><td><td><td class=c>10<td class=c>K9<td class=c>14<td class=c>8
<tr><td>ThS<td>Thymus serpyllum<td>mateřídouška<td><td><td><td><td><td class=th><td class=th><td class=th><td><td><td><td><td class=c>5-10<td class=c>K9<td class=c>16<td class=c>9
<tr class="k"><td>CELKEM<td><td><td><td><td><td><td><td><td><td><td><td><td><td><td><td><td class=c>128<td>
<tr class="g"><td>trávy<td><td><td><td><td><td><td><td><td><td><td><td><td><td><td class=c>(cm)<td><td><td>
<tr><td>SeA<td>Sesleria autumnalis<td>třtina<td><td><td><td><td><td><td class=se><td class=se><td><td><td><td><td class=c>120<td class=c>K9<td class=c><b>10</b><td class=c>2
<tr class="g"><td>cibuloviny<td><td><td><td><td><td><td><td><td><td><td><td><td><td><td class=c>(cm)<td><td><td class=c>ks/hníz.
<tr><td><td>Scila siberica<td>ladoňka<td><td><td class=sc><td class=sc><td><td><td><td><td><td><td><td><td class=c>10-20<td class=c>cibule<td class=c>110<td class=c>10
<tr><td><td>Narcissus  ´Cheerfulness´<td>narcisy<td><td><td><td class=gy><td class=gy><td><td><td><td><td><td><td><td class=c>35-40<td class=c>cibule<td class=c>55<td class=c>5
<tr class="k"><td>CELKEM<td><td><td><td><td><td><td><td><td><td><td><td><td><td><td><td><td class=c>165<td>
</table>

</div></body></html>
